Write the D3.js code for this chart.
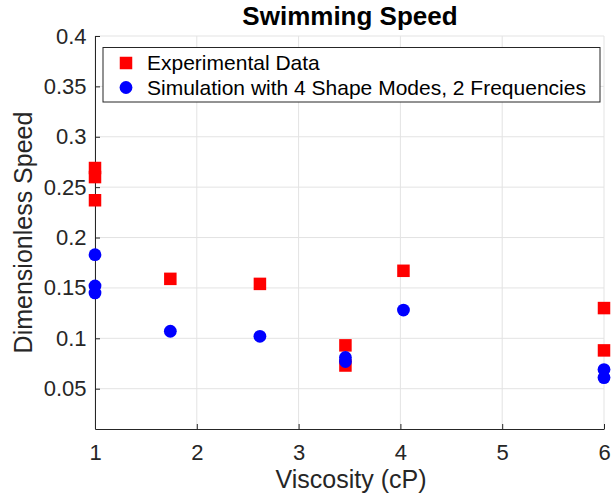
<!DOCTYPE html>
<html><head><meta charset="utf-8">
<script src="https://cdn.jsdelivr.net/npm/d3@7"></script>
<style>body{margin:0;background:#fff;} text{font-family:"Liberation Sans",Arial,sans-serif;}</style>
</head><body><svg id="c" width="615" height="496"></svg>
<script>
const expX = [1, 1, 1, 1.74, 2.62, 3.46, 3.46, 4.03, 6, 6];
const expY = [0.269, 0.260, 0.237, 0.159, 0.154, 0.093, 0.073, 0.167, 0.130, 0.088];
const simX = [1, 1, 1, 1.74, 2.62, 3.46, 3.46, 4.03, 6, 6];
const simY = [0.183, 0.152, 0.145, 0.107, 0.102, 0.081, 0.077, 0.128, 0.069, 0.061];
const xTicks = [1, 2, 3, 4, 5, 6];
const yTicks = [0.05, 0.1, 0.15, 0.2, 0.25, 0.3, 0.35, 0.4];
const legendLabels = ["Experimental Data", "Simulation with 4 Shape Modes, 2 Frequencies"];

const svg = d3.select("#c");
const L = 95, R = 604, T = 36, B = 429;
const x = d3.scaleLinear().domain([1, 6]).range([L, R]);
const y = d3.scaleLinear().domain([0.01, 0.4]).range([B, T]);
const ink = "#262626";

// grid
svg.append("g").selectAll("line").data(xTicks).join("line")
  .attr("x1", d => x(d)).attr("x2", d => x(d)).attr("y1", T).attr("y2", B)
  .attr("stroke", "#e3e3e3").attr("stroke-width", 1);
svg.append("g").selectAll("line").data(yTicks).join("line")
  .attr("x1", L).attr("x2", R).attr("y1", d => y(d)).attr("y2", d => y(d))
  .attr("stroke", "#e3e3e3").attr("stroke-width", 1);

// axes
const xAxis = svg.append("g").attr("transform", `translate(0,${B})`)
  .call(d3.axisBottom(x).tickValues(xTicks).tickFormat(d3.format("d")).tickSizeInner(-5).tickSizeOuter(0).tickPadding(15));
const yAxis = svg.append("g").attr("transform", `translate(${L},0)`)
  .call(d3.axisLeft(y).tickValues(yTicks).tickFormat(d => String(+d.toFixed(2))).tickSizeInner(-5).tickSizeOuter(0).tickPadding(8.5));
[xAxis, yAxis].forEach(g => {
  g.select(".domain").attr("stroke", ink).attr("stroke-width", 1);
  g.selectAll(".tick line").attr("stroke", ink);
  g.selectAll(".tick text").attr("fill", ink).attr("font-size", 22)
    .attr("font-family", "Liberation Sans, Arial, sans-serif");
});
xAxis.selectAll(".tick text").attr("dy", "0.71em");

// points
const sz = 12.5;
svg.append("g").selectAll("rect").data(expX.map((d, i) => [d, expY[i]])).join("rect")
  .attr("x", d => x(d[0]) - sz / 2).attr("y", d => y(d[1]) - sz / 2)
  .attr("width", sz).attr("height", sz).attr("fill", "#ff0000");
svg.append("g").selectAll("circle").data(simX.map((d, i) => [d, simY[i]])).join("circle")
  .attr("cx", d => x(d[0])).attr("cy", d => y(d[1])).attr("r", 6.4).attr("fill", "#0000ff");

// title & labels
svg.append("text").attr("x", 350).attr("y", 25).attr("text-anchor", "middle")
  .attr("font-size", 26).attr("font-weight", "bold").attr("fill", "#000").text("Swimming Speed");
svg.append("text").attr("x", 351).attr("y", 487.5).attr("text-anchor", "middle")
  .attr("font-size", 25).attr("fill", ink).text("Viscosity (cP)");
svg.append("text").attr("transform", `translate(32,${(T + B) / 2}) rotate(-90)`).attr("text-anchor", "middle")
  .attr("font-size", 25).attr("fill", ink).text("Dimensionless Speed");

// legend
const lg = svg.append("g");
lg.append("rect").attr("x", 103).attr("y", 47.5).attr("width", 497).attr("height", 54.5)
  .attr("fill", "#fff").attr("stroke", ink).attr("stroke-width", 1);
lg.append("rect").attr("x", 126 - sz / 2).attr("y", 63 - sz / 2).attr("width", sz).attr("height", sz).attr("fill", "#ff0000");
lg.append("circle").attr("cx", 126).attr("cy", 87.5).attr("r", 6.4).attr("fill", "#0000ff");
legendLabels.forEach((t, i) => {
  lg.append("text").attr("x", 147).attr("y", 63 + i * 24.5).attr("dy", "0.35em")
    .attr("font-size", 21).attr("fill", "#000").text(t);
});
</script></body></html>
